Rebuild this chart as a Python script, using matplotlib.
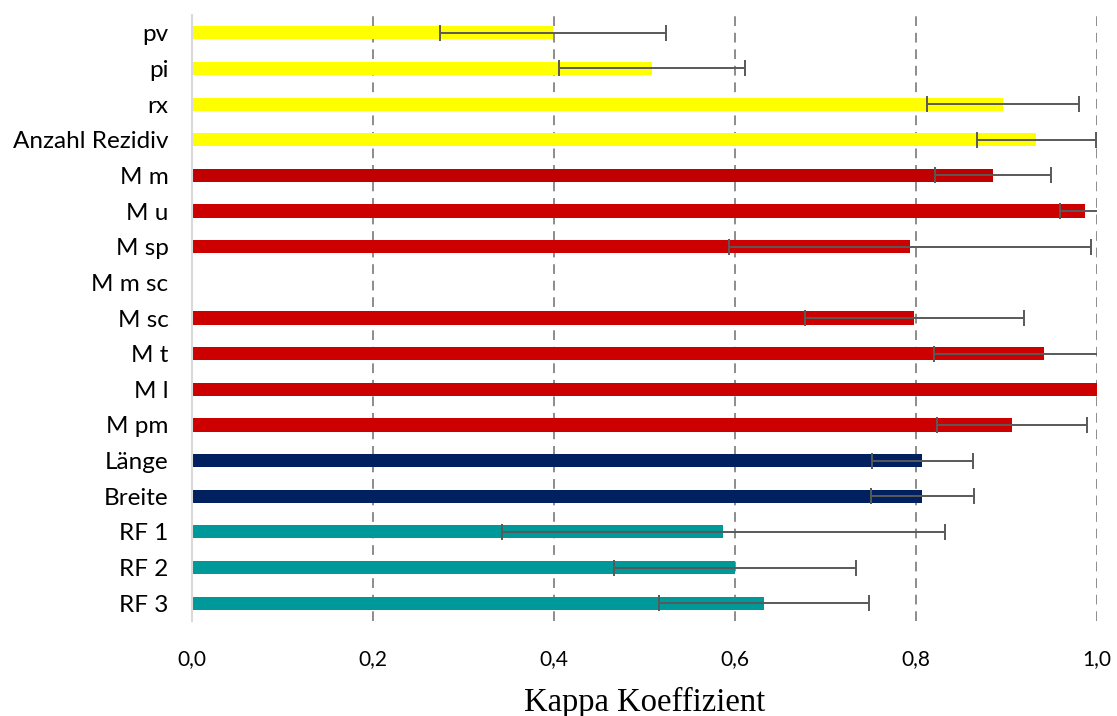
import numpy as np
import matplotlib
matplotlib.use("Agg")
import matplotlib.pyplot as plt

categories = ["pv", "pi", "rx", "Anzahl Rezidiv", "M m", "M u", "M sp", "M m sc",
              "M sc", "M t", "M l", "M pm", "Länge", "Breite", "RF 1", "RF 2", "RF 3"]
kappa = [0.399, 0.508, 0.896, 0.933, 0.885, 0.987, 0.793, np.nan,
         0.798, 0.941, 1.000, 0.906, 0.807, 0.807, 0.587, 0.600, 0.632]
error = [0.125, 0.103, 0.084, 0.066, 0.064, 0.028, 0.200, np.nan,
         0.121, 0.121, np.nan, 0.083, 0.056, 0.057, 0.245, 0.134, 0.116]
colors = ["#FFFF00"] * 4 + ["#C00000"] + ["#CC0000"] * 7 + ["#002060"] * 2 + ["#009999"] * 3
xticks = [0.0, 0.2, 0.4, 0.6, 0.8, 1.0]
xticklabels = ["0,0", "0,2", "0,4", "0,6", "0,8", "1,0"]

fig = plt.figure(figsize=(11.17, 7.16), dpi=100)
ax = fig.add_axes([192/1117, 1 - 621/716, (1097-192)/1117, (621-15)/716])

y = np.arange(len(categories))
vals = np.nan_to_num(np.array(kappa, dtype=float), nan=0.0)
ax.barh(y, vals, height=0.37, color=colors, zorder=2)

for yi, v, e in zip(y, kappa, error):
    if not np.isnan(v) and not np.isnan(e):
        ax.errorbar(v, yi, xerr=e, fmt="none", ecolor="#595959", elinewidth=1.4,
                    capsize=5.5, capthick=1.4, zorder=3)

for xv in xticks[1:]:
    ax.axvline(xv, color="#8C8C8C", lw=1.4, ls=(0, (5, 3.5)), zorder=1)

ax.set_xlim(0, 1.0)
ax.set_ylim(len(categories) - 0.5, -0.5)
ax.set_yticks(y)
ax.set_yticklabels(categories, fontsize=17.5, family="Lato")
ax.set_xticks(xticks)
ax.set_xticklabels(xticklabels, fontsize=15, family="Lato")
ax.tick_params(axis="both", length=0)
ax.tick_params(axis="y", pad=17)
ax.tick_params(axis="x", pad=20)
for s in ["top", "right", "bottom"]:
    ax.spines[s].set_visible(False)
ax.spines["left"].set_color("#D9D9D9")
ax.spines["left"].set_linewidth(1.5)
ax.set_xlabel("Kappa Koeffizient", fontsize=23.5, family="Liberation Serif", labelpad=13)

fig.savefig("out.png", dpi=100)
